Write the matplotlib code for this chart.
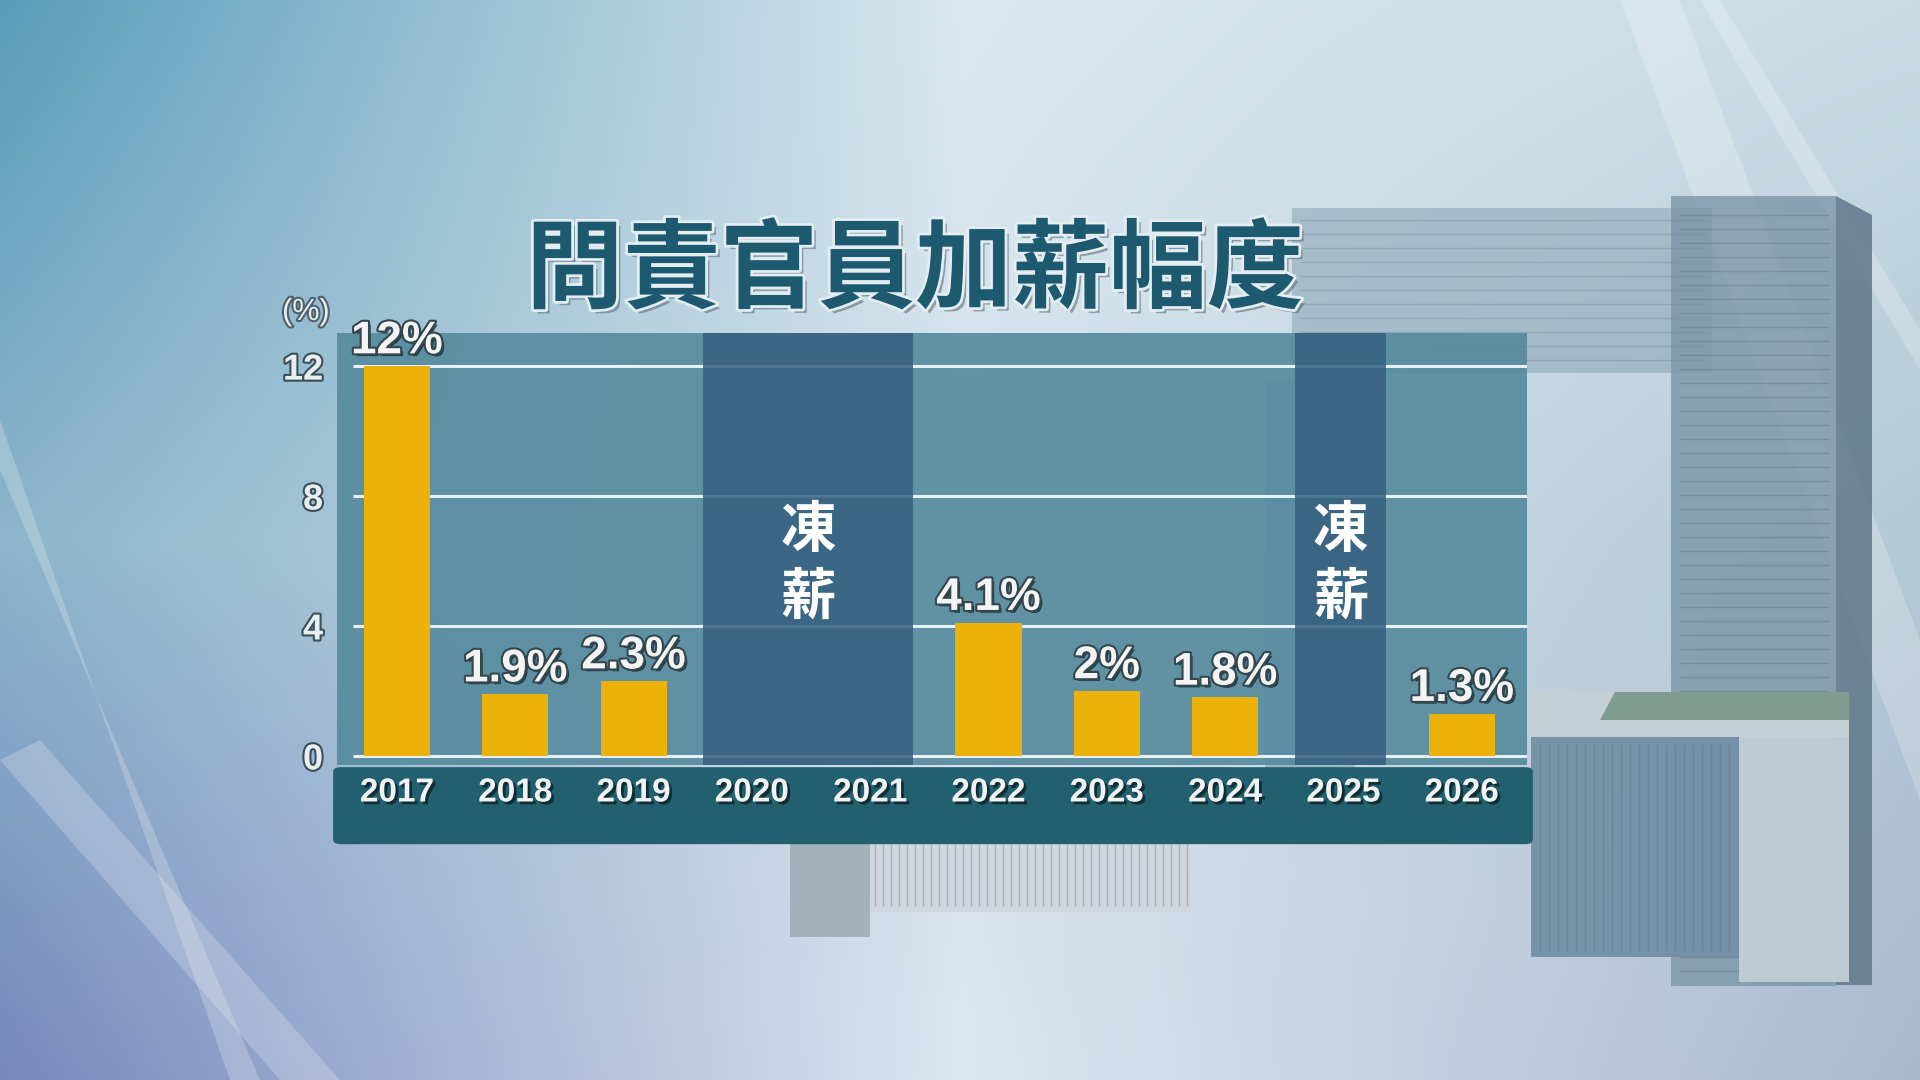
import numpy as np
import matplotlib
matplotlib.use("Agg")
import matplotlib.pyplot as plt
import matplotlib.patheffects as pe
from matplotlib.patches import Rectangle, FancyBboxPatch, Polygon
from matplotlib import font_manager as fm
from matplotlib.transforms import blended_transform_factory

# data
years = ["2017", "2018", "2019", "2020", "2021", "2022", "2023", "2024", "2025", "2026"]
raise_pct = [12, 1.9, 2.3, np.nan, np.nan, 4.1, 2, 1.8, np.nan, 1.3]
value_labels = ["12%", "1.9%", "2.3%", "", "", "4.1%", "2%", "1.8%", "", "1.3%"]
freeze_groups = [["2020", "2021"], ["2025"]]
freeze_text = "凍\n薪"
title = "問責官員加薪幅度"
yticks = [0, 4, 8, 12]
unit = "(%)"

names = {f.name for f in fm.fontManager.ttflist}
narrow = "Liberation Sans Narrow" if "Liberation Sans Narrow" in names else "Liberation Sans"
val_size = 40 if narrow == "Liberation Sans Narrow" else 33
year_size = 27 if narrow == "Liberation Sans Narrow" else 24
cjk = "Noto Sans CJK TC"

W, H = 1920, 1080
fig = plt.figure(figsize=(19.2, 10.8), dpi=100)

# background
bg = fig.add_axes([0, 0, 1, 1])
bg.set_zorder(-2)
bg.set_xlim(0, W)
bg.set_ylim(H, 0)
bg.axis("off")
grid_cols = [["#5a9dbb", "#d9e7ef", "#c9dce6"],
             ["#8db5cb", "#d3e2eb", "#b4c9d6"],
             ["#7689bd", "#dde5f1", "#aab9cf"]]
rgb = np.array([[matplotlib.colors.to_rgb(c) for c in row] for row in grid_cols])
gy, gx = np.mgrid[0:1:216j, 0:1:384j]
img = np.zeros((216, 384, 3))
for ch in range(3):
    rows = []
    for r in range(3):
        rows.append(np.where(gx < 0.5, rgb[r, 0, ch] + (rgb[r, 1, ch] - rgb[r, 0, ch]) * gx * 2,
                             rgb[r, 1, ch] + (rgb[r, 2, ch] - rgb[r, 1, ch]) * (gx - 0.5) * 2))
    img[..., ch] = np.where(gy < 0.5, rows[0] + (rows[1] - rows[0]) * gy * 2,
                            rows[1] + (rows[2] - rows[1]) * (gy - 0.5) * 2)
bg.imshow(img, extent=(0, W, H, 0), aspect="auto", interpolation="bicubic", zorder=0)

# light streaks
for pts in [[(1620, 0), (1680, 0), (1920, 640), (1920, 800)],
            [(1700, 0), (1720, 0), (1920, 330), (1920, 370)],
            [(0, 760), (40, 740), (340, 1080), (280, 1080)],
            [(0, 420), (0, 470), (260, 1080), (230, 1080)]]:
    bg.add_patch(Polygon(pts, closed=True, color="white", alpha=0.22, lw=0, zorder=1))

# building hints
bg.add_patch(Rectangle((1292, 208), 420, 165, color="#8ea8b8", alpha=0.6, lw=0, zorder=2))
bg.add_patch(Rectangle((1265, 380), 90, 420, color="#86a0b1", alpha=0.6, lw=0, zorder=2))
bg.add_patch(Rectangle((1671, 196), 165, 790, color="#7b96a8", alpha=0.8, lw=0, zorder=2))
bg.add_patch(Polygon([(1836, 196), (1872, 215), (1872, 985), (1836, 985)], color="#5d788b", alpha=0.85, lw=0, zorder=2))
for yy in np.arange(215, 980, 14):
    bg.plot([1680, 1828], [yy, yy], color="#5f7d90", lw=1, alpha=0.5, zorder=3)
for yy in np.arange(220, 365, 14):
    bg.plot([1300, 1705], [yy, yy], color="#6f8ea2", lw=1, alpha=0.4, zorder=3)
bg.add_patch(Rectangle((1525, 692), 324, 45, color="#c4cfd6", lw=0, zorder=3))
bg.add_patch(Polygon([(1615, 692), (1849, 692), (1849, 720), (1600, 720)], color="#7e9d90", lw=0, zorder=3))
bg.add_patch(Rectangle((1531, 737), 208, 220, color="#7290a6", alpha=0.95, lw=0, zorder=3))
bg.add_patch(Rectangle((1739, 737), 110, 245, color="#c3ced6", alpha=0.95, lw=0, zorder=3))
for xx in np.arange(1540, 1735, 9):
    bg.plot([xx, xx], [745, 950], color="#5f7d92", lw=1, alpha=0.5, zorder=3)
bg.add_patch(Rectangle((790, 842), 80, 95, color="#9aa7b0", alpha=0.8, lw=0, zorder=2))
bg.add_patch(Rectangle((870, 842), 320, 70, color="#cfd5da", alpha=0.8, lw=0, zorder=2))
for xx in np.arange(875, 1190, 8):
    bg.plot([xx, xx], [842, 905], color="#a9b3ba", lw=1, zorder=2)

# main chart panel
x = np.arange(len(years))
ax_l, ax_r, ax_t, ax_b = 337, 1527, 333, 765
ax = fig.add_axes([ax_l / W, 1 - ax_b / H, (ax_r - ax_l) / W, (ax_b - ax_t) / H])
ax.set_facecolor((0.33, 0.54, 0.61, 0.9))
ax.set_xlim(-0.507, 9.55)
ax.set_ylim(-0.28, 13.02)
for s in ax.spines.values():
    s.set_visible(False)
ax.set_xticks([])
ax.set_yticks(yticks)
ax.set_yticklabels([str(t) for t in yticks])
ax.tick_params(axis="y", length=0, pad=10)
for lab in ax.get_yticklabels():
    lab.set_fontfamily("Liberation Sans")
    lab.set_fontweight("bold")
    lab.set_fontsize(26)
    lab.set_color("#e9eef0")
    lab.set_path_effects([pe.withStroke(linewidth=3, foreground="#3b4f5a")])

ax.hlines(yticks, -0.37, 9.55, color="#e6f1f5", lw=2.2, zorder=2)

for grp in freeze_groups:
    i0 = years.index(grp[0])
    i1 = years.index(grp[-1])
    left, right = i0 - 0.41, i1 + 0.36
    ax.add_patch(Rectangle((left, -0.28), right - left, 13.3,
                           color="#35607f", alpha=0.85, lw=0, zorder=3))
    ax.text((left + right) / 2, 5.9, freeze_text,
            ha="center", va="center", fontsize=40, color="white",
            family=cjk, weight="bold", linespacing=1.25, zorder=6)

ax.bar(x, raise_pct, width=0.56, color="#edb10c", zorder=4)

for xi, v, lab in zip(x, raise_pct, value_labels):
    if lab:
        ax.annotate(lab, (xi, v), xytext=(0, 2), textcoords="offset points",
                    ha="center", va="bottom", fontsize=val_size, family=narrow,
                    weight="bold", color="#f4f4f4", zorder=7,
                    path_effects=[pe.SimplePatchShadow(offset=(2, -2), shadow_rgbFace="#1c2a30", alpha=0.8),
                                  pe.withStroke(linewidth=3, foreground="#33474f")])

# year strip
strip = FancyBboxPatch((ax_l / W, 1 - 842 / H), (ax_r + 2 - ax_l) / W, (842 - 765) / H - 0.004,
                       boxstyle="round,pad=0.002,rounding_size=0.004",
                       transform=fig.transFigure, color="#22606f", lw=0, zorder=-1)
fig.patches.append(strip)
tr = blended_transform_factory(ax.transData, fig.transFigure)
for xi, yr in zip(x, years):
    ax.text(xi, 1 - 793 / H, yr, transform=tr, ha="center", va="center",
            fontsize=year_size, family=narrow, weight="bold", color="#f1f3f3", clip_on=False, zorder=8,
            path_effects=[pe.SimplePatchShadow(offset=(2, -2), shadow_rgbFace="#0d2a30", alpha=0.9),
                          pe.Normal()])

fig.text(306 / W, 1 - 312 / H, unit, ha="center", va="center", fontsize=22,
         family="Liberation Sans", color="#e9eef0",
         path_effects=[pe.withStroke(linewidth=3, foreground="#50626c")])

fig.text(915 / W, 1 - 272 / H, title, ha="center", va="center", fontsize=70,
         family=cjk, weight="black", color="#1d5a70",
         path_effects=[pe.SimplePatchShadow(offset=(3, -3), shadow_rgbFace="#5a6f78", alpha=0.6),
                       pe.withStroke(linewidth=4, foreground="#e3edf2")])

fig.savefig("out.png", dpi=100)
